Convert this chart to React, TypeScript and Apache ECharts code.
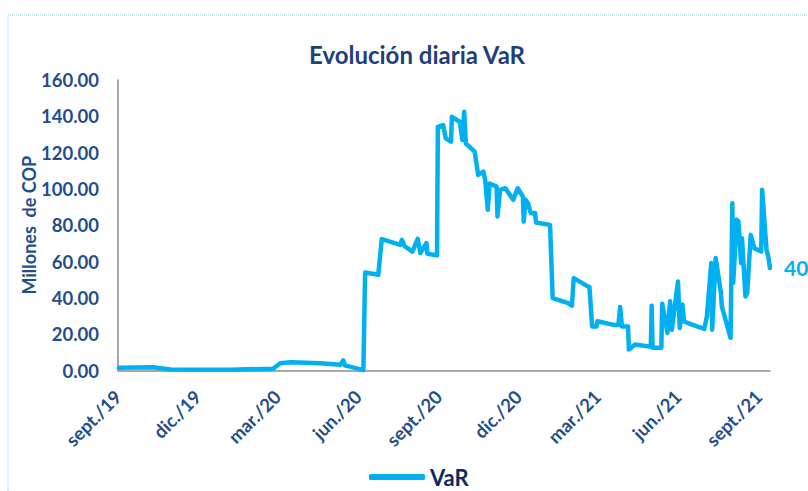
import React, { useEffect, useRef } from "react";
import * as echarts from "echarts";

const dates: string[] = [
  "2019-09-02","2019-10-11","2019-10-31","2020-01-07","2020-02-25","2020-03-04","2020-03-16","2020-04-19","2020-05-12","2020-05-15",
  "2020-05-17","2020-06-07","2020-06-09","2020-06-24","2020-06-28","2020-07-19","2020-07-21","2020-07-24","2020-08-02","2020-08-08",
  "2020-08-11","2020-08-18","2020-08-19","2020-08-30","2020-08-31","2020-09-06","2020-09-09","2020-09-15","2020-09-16","2020-09-25",
  "2020-09-28","2020-09-30","2020-10-02","2020-10-12","2020-10-16","2020-10-22","2020-10-24","2020-10-27","2020-10-29","2020-11-06",
  "2020-11-07","2020-11-10","2020-11-16","2020-11-25","2020-11-30","2020-12-06","2020-12-07","2020-12-09","2020-12-12","2020-12-15",
  "2020-12-20","2020-12-21","2021-01-06","2021-01-09","2021-01-26","2021-01-31","2021-02-02","2021-02-18","2021-02-20","2021-02-23",
  "2021-02-28","2021-03-01","2021-03-21","2021-03-25","2021-03-27","2021-03-29","2021-04-05","2021-04-06","2021-04-13","2021-04-27",
  "2021-05-01","2021-05-02","2021-05-03","2021-05-13","2021-05-14","2021-05-20","2021-05-23","2021-05-25","2021-06-01","2021-06-03",
  "2021-06-06","2021-06-08","2021-06-17","2021-07-01","2021-07-04","2021-07-09","2021-07-10","2021-07-14","2021-07-16","2021-07-20",
  "2021-07-21","2021-07-31","2021-08-02","2021-08-03","2021-08-07","2021-08-09","2021-08-12","2021-08-13","2021-08-17","2021-08-19",
  "2021-08-23","2021-08-27","2021-09-04","2021-09-05","2021-09-10","2021-09-12","2021-09-14",
];

const varValues: number[] = [
  1.5, 1.8, 0.5, 0.4, 1.0, 4.0, 4.5, 4.0, 3.2, 5.6,
  2.8, 0.2, 54, 52.7, 72.4, 69.2, 72, 68.5, 65.5, 72.5,
  64.7, 70.2, 64.3, 63.4, 134.2, 135.2, 127.9, 126, 139.7, 137,
  126.9, 142.5, 125, 120.5, 107.7, 109.5, 105, 88.5, 103, 101.3,
  84.8, 99.5, 100.4, 94, 100.4, 95.8, 82, 94, 92, 86.6,
  86.8, 81.5, 80.2, 39.9, 37.2, 35.7, 50.9, 46.3, 46, 24.3,
  24.3, 27.1, 25, 25, 35, 24.3, 24.3, 11.5, 14.3, 13.4,
  13, 35.7, 12.5, 12.5, 36.8, 20.7, 38.1, 22.5, 49, 23.4,
  36.3, 27, 25.3, 22.9, 29.8, 59.2, 22.5, 61.9, 55.5, 42.7,
  35.3, 18, 92.1, 48.2, 83, 82, 59.2, 72.9, 40.8, 42.7,
  74.7, 67.4, 65.5, 99.5, 66.5, 62.8, 56.4,
];

// x-axis tick label dates (year, month index)
const tickMonths: [number, number][] = [
  [2019, 8], [2019, 11], [2020, 2], [2020, 5], [2020, 8],
  [2020, 11], [2021, 2], [2021, 5], [2021, 8],
];
const monthNames: Record<number, string> = { 2: "mar.", 5: "jun.", 8: "sept.", 11: "dic." };

const yTicks = { min: 0, max: 160, interval: 20 };
const titleText = "Evolución diaria VaR";
const yAxisName = "Millones  de COP";
const seriesName = "VaR";
const sideLabel = "40";

const FONT = "Lato, 'Open Sans', sans-serif";
const NAVY = "#1F4E8C";
const LINE = "#00B0F0";

function parseDate(s: string): number {
  const [y, m, d] = s.split("-").map(Number);
  return new Date(y, m - 1, d).getTime();
}

export default function App() {
  const ref = useRef<HTMLDivElement>(null);
  useEffect(() => {
    if (!ref.current) return;
    const chart = echarts.init(ref.current, undefined, { renderer: "svg" });
    const data = dates.map((d, i) => [parseDate(d), varValues[i]]);
    const tickVals = tickMonths.map(([y, m]) => new Date(y, m, 1).getTime());
    chart.setOption({
      animation: false,
      backgroundColor: "#ffffff",
      title: {
        text: titleText,
        left: 304,
        top: 37,
        textStyle: { fontFamily: FONT, fontSize: 24, fontWeight: "bold", color: "#1F3F7A" },
      },
      legend: {
        left: 364,
        top: 461,
        icon: "roundRect",
        itemWidth: 56,
        itemHeight: 6,
        textStyle: { fontFamily: FONT, fontSize: 22, lineHeight: 22, fontWeight: "bold", color: "#0D2B5E" },
        data: [seriesName],
      },
      grid: { left: 118, right: 38, top: 80, bottom: 120.5, containLabel: false },
      xAxis: {
        type: "value",
        min: parseDate("2019-09-01"),
        max: parseDate("2021-09-14"),
        axisLine: { show: true, onZero: false, lineStyle: { color: "#8C8C8C", width: 1.5 } },
        axisTick: { show: false },
        splitLine: { show: false },
        axisLabel: {
          customValues: tickVals,
          rotate: 45,
          margin: 23,
          hideOverlap: false,
          fontFamily: FONT,
          fontSize: 18.5,
          fontWeight: "bold",
          color: NAVY,
          formatter: (v: number) => {
            const d = new Date(v);
            const yy = String(d.getFullYear()).slice(2);
            return (monthNames[d.getMonth()] || "") + "/" + yy;
          },
        },
      },
      yAxis: {
        type: "value",
        min: yTicks.min,
        max: yTicks.max,
        interval: yTicks.interval,
        name: yAxisName,
        nameLocation: "middle",
        nameRotate: 90,
        nameGap: 80,
        nameMoveOverlap: false,
        nameTextStyle: { fontFamily: FONT, fontSize: 18, fontWeight: "bold", color: NAVY },
        axisLine: { show: true, lineStyle: { color: "#8C8C8C", width: 1.5 } },
        axisTick: { show: false },
        splitLine: { show: false },
        axisLabel: {
          margin: 19,
          fontFamily: FONT,
          fontSize: 18.5,
          fontWeight: "bold",
          color: NAVY,
          formatter: (v: number) => v.toFixed(2),
        },
      },
      graphic: [
        {
          type: "rect",
          shape: { x: 8, y: 15, width: 820, height: 500 },
          style: { fill: "none", stroke: "#8FD0F2", lineWidth: 1, lineDash: [1, 1] },
          silent: true,
          z: -1,
        },
        {
          type: "text",
          x: 784,
          y: 267,
          style: {
            text: sideLabel,
            fill: LINE,
            font: `bold 21px ${FONT}`,
            textAlign: "left",
            textVerticalAlign: "middle",
          },
        },
      ],
      series: [
        {
          name: seriesName,
          type: "line",
          data,
          showSymbol: false,
          symbol: "none",
          color: LINE,
          lineStyle: { color: LINE, width: 4.5, join: "round", cap: "round" },
        },
      ],
    });
    return () => chart.dispose();
  }, []);
  return (
    <div
      ref={ref}
      style={{ position: "absolute", left: 0, top: 0, width: 808, height: 491 }}
    />
  );
}
